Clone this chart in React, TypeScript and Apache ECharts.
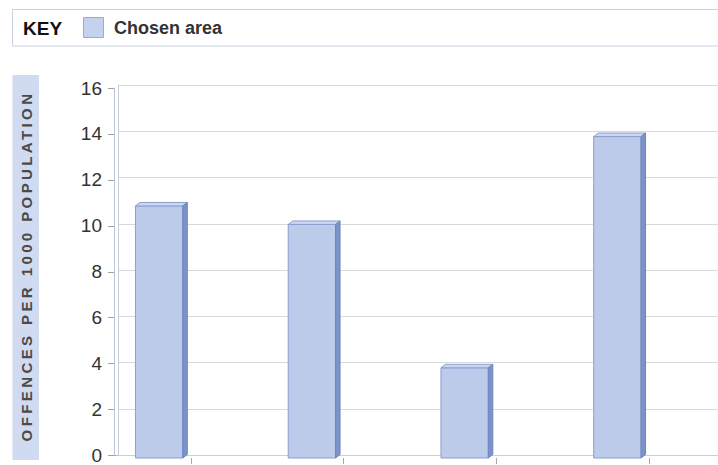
import React, { useEffect, useRef } from "react";
import * as echarts from "echarts";

const categories = ["Category 1", "Category 2", "Category 3", "Category 4"];
const chosenArea = [10.9, 10.1, 3.9, 13.9];
const yMin = 0;
const yMax = 16;
const yInterval = 2;
const keyTitle = "KEY";
const seriesName = "Chosen area";
const yAxisTitle = "OFFENCES PER 1000 POPULATION";

const FONT = "'Liberation Sans', Arial, Helvetica, sans-serif";

export default function App() {
  const ref = useRef<HTMLDivElement>(null);

  useEffect(() => {
    if (!ref.current) return;
    const chart = echarts.init(ref.current, undefined, { renderer: "svg" });

    const renderItem = (params: any, api: any) => {
      const idx = api.value(0);
      const v = api.value(1);
      const top = api.coord([idx, v]);
      const base = api.coord([idx, 0]);
      const bw = api.size([1, 0])[0];
      const right = top[0] + bw / 2 - bw * 0.052;
      const w = bw * 0.31;
      const left = right - w;
      const dx = 4.5;
      const dy = -3.5;
      return {
        type: "group",
        children: [
          {
            type: "rect",
            shape: { x: left, y: top[1], width: w, height: base[1] - top[1] },
            style: { fill: "#bccbea", stroke: "#8b9fcf", lineWidth: 1 },
          },
          {
            type: "polygon",
            shape: {
              points: [
                [left, top[1]],
                [left + dx, top[1] + dy],
                [right + dx, top[1] + dy],
                [right, top[1]],
              ],
            },
            style: { fill: "#cbd7f0", stroke: "#8b9fcf", lineWidth: 1 },
          },
          {
            type: "polygon",
            shape: {
              points: [
                [right, top[1]],
                [right + dx, top[1] + dy],
                [right + dx, base[1] + dy],
                [right, base[1]],
              ],
            },
            style: { fill: "#7c93ca", stroke: "#6e85bd", lineWidth: 1 },
          },
        ],
      };
    };

    chart.setOption({
      animation: false,
      backgroundColor: "#ffffff",
      grid: [
        { left: 114, right: 0, top: 88, bottom: 7 },
        { left: 118, right: 0, top: 85, bottom: 10 },
        { left: 38, right: 69, top: 88, bottom: 7 },
      ],
      xAxis: [
        {
          gridIndex: 0,
          type: "category",
          data: categories,
          axisLine: { show: true, lineStyle: { color: "#b4b4b4" } },
          axisTick: { show: false },
          axisLabel: { show: false },
          splitLine: { show: false },
        },
        {
          gridIndex: 1,
          type: "category",
          data: categories,
          axisLine: { show: true, lineStyle: { color: "#c8cfdc" } },
          axisTick: { show: false },
          axisLabel: { show: false },
          splitLine: { show: false },
        },
        {
          gridIndex: 2,
          type: "category",
          data: categories,
          axisLine: { show: false },
          axisTick: {
            show: true,
            length: 6,
            lineStyle: { color: "#a8a8a8" },
            interval: (i: number) => i !== 0,
          },
          axisLabel: { show: false },
          splitLine: { show: false },
        },
      ],
      yAxis: [
        {
          gridIndex: 0,
          type: "value",
          min: yMin,
          max: yMax,
          interval: yInterval,
          axisLine: { show: true, lineStyle: { color: "#bcc5d6" } },
          axisTick: { show: true, length: 6, lineStyle: { color: "#a0a0a0" } },
          axisLabel: { fontSize: 19, color: "#333333", margin: 12, fontFamily: FONT },
          splitLine: { show: false },
        },
        {
          gridIndex: 1,
          type: "value",
          min: yMin,
          max: yMax,
          interval: yInterval,
          axisLine: { show: true, lineStyle: { color: "#c8cfdc" } },
          axisTick: { show: false },
          axisLabel: { show: false },
          splitLine: { show: true, lineStyle: { color: "#d9d9d9" } },
        },
        {
          gridIndex: 2,
          type: "value",
          min: yMin,
          max: yMax,
          interval: yInterval,
          show: false,
        },
      ],
      graphic: [
        {
          type: "rect",
          shape: { x: 12.5, y: 9.5, width: 720, height: 36.5 },
          style: { fill: "#ffffff", stroke: "#c9d1e3", lineWidth: 1 },
          silent: true,
        },
        {
          type: "text",
          x: 23,
          y: 28,
          style: {
            text: keyTitle,
            font: `bold 19px ${FONT}`,
            fill: "#111111",
            textVerticalAlign: "middle",
          },
          silent: true,
        },
        {
          type: "rect",
          shape: { x: 83.5, y: 17.5, width: 20, height: 20 },
          style: { fill: "#c4d2ee", stroke: "#9aaad0", lineWidth: 1 },
          silent: true,
        },
        {
          type: "text",
          x: 114,
          y: 28,
          style: {
            text: seriesName,
            font: `bold 18px ${FONT}`,
            fill: "#333333",
            textVerticalAlign: "middle",
          },
          silent: true,
        },
        {
          type: "rect",
          z: 100,
          shape: { x: 12.5, y: 75, width: 26.5, height: 385 },
          style: { fill: "#d0daf0" },
          silent: true,
        },
        {
          type: "text",
          z: 101,
          x: 26,
          y: 266,
          rotation: Math.PI / 2,
          style: {
            text: yAxisTitle,
            font: `bold 15px ${FONT}`,
            fill: "#4a4a4a",
            textAlign: "center",
            textVerticalAlign: "middle",
          },
          silent: true,
        },
      ],
      series: [
        {
          type: "custom",
          name: seriesName,
          xAxisIndex: 2,
          yAxisIndex: 2,
          renderItem,
          encode: { x: 0, y: 1 },
          data: chosenArea.map((v, i) => [i, v]),
          silent: true,
        },
      ],
    });

    const texts = ref.current.querySelectorAll("text");
    texts.forEach((t) => {
      if ((t.textContent || "").trim() === yAxisTitle) {
        t.setAttribute("letter-spacing", "3.4");
        (t as any).style.letterSpacing = "3.4px";
      }
    });

    return () => {
      chart.dispose();
    };
  }, []);

  return (
    <div
      ref={ref}
      style={{
        position: "absolute",
        left: 0,
        top: 0,
        width: 718,
        height: 465,
        background: "#ffffff",
      }}
    />
  );
}
